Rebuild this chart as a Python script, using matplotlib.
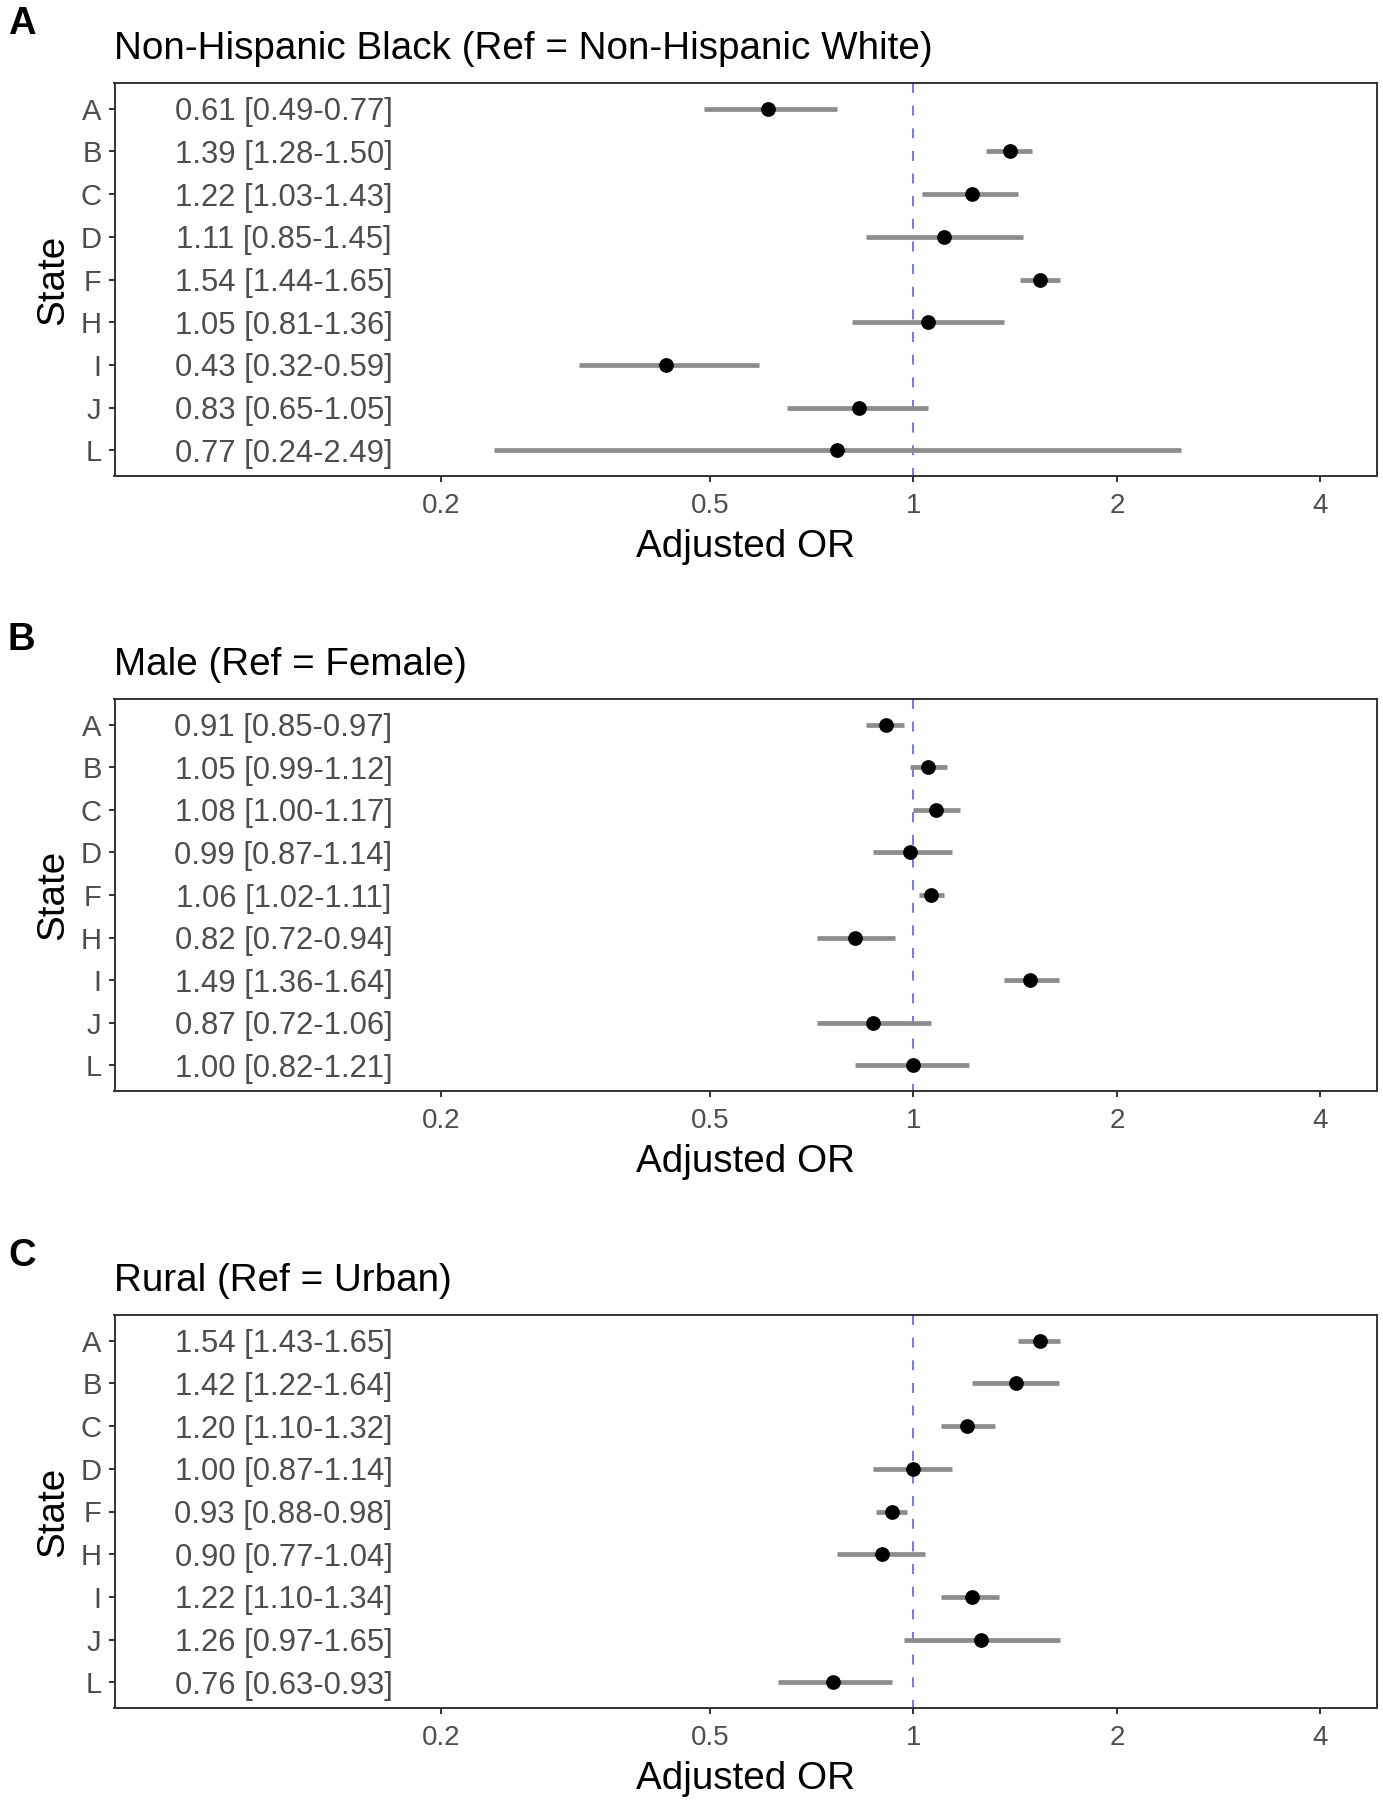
import matplotlib
matplotlib.use("Agg")
import matplotlib.pyplot as plt
import matplotlib.transforms as mtransforms

plt.rcParams['font.family'] = ['Liberation Sans', 'DejaVu Sans']
plt.rcParams['lines.scale_dashes'] = False

# data
states = ['A', 'B', 'C', 'D', 'F', 'H', 'I', 'J', 'L']

race_or = [0.61, 1.39, 1.22, 1.11, 1.54, 1.05, 0.43, 0.83, 0.77]
race_lo = [0.49, 1.28, 1.03, 0.85, 1.44, 0.81, 0.32, 0.65, 0.24]
race_hi = [0.77, 1.50, 1.43, 1.45, 1.65, 1.36, 0.59, 1.05, 2.49]

sex_or = [0.91, 1.05, 1.08, 0.99, 1.06, 0.82, 1.49, 0.87, 1.00]
sex_lo = [0.85, 0.99, 1.00, 0.87, 1.02, 0.72, 1.36, 0.72, 0.82]
sex_hi = [0.97, 1.12, 1.17, 1.14, 1.11, 0.94, 1.64, 1.06, 1.21]

rural_or = [1.54, 1.42, 1.20, 1.00, 0.93, 0.90, 1.22, 1.26, 0.76]
rural_lo = [1.43, 1.22, 1.10, 0.87, 0.88, 0.77, 1.10, 0.97, 0.63]
rural_hi = [1.65, 1.64, 1.32, 1.14, 0.98, 1.04, 1.34, 1.65, 0.93]

panels = [
    ('A', 'Non-Hispanic Black (Ref = Non-Hispanic White)', race_or, race_lo, race_hi),
    ('B', 'Male (Ref = Female)', sex_or, sex_lo, sex_hi),
    ('C', 'Rural (Ref = Urban)', rural_or, rural_lo, rural_hi),
]

xticks = [0.2, 0.5, 1, 2, 4]
xticklabels = ['0.2', '0.5', '1', '2', '4']
label_x = 0.117          # where the OR [CI] column sits
x_limits = (0.0658, 4.85)

W, H = 1383, 1800
fig = plt.figure(figsize=(W / 100, H / 100), dpi=100)

# axes boxes in pixels: (top, bottom)
boxes = [(83, 476), (699, 1091), (1315, 1708)]
left_px, right_px = 114.5, 1377

TXT = '#4D4D4D'
DARK = '#333333'

for (letter, title, ors, los, his), (top, bot) in zip(panels, boxes):
    ax = fig.add_axes([left_px / W, 1 - bot / H,
                       (right_px - left_px) / W, (bot - top) / H])
    y = list(range(len(states)))

    ax.hlines(y, los, his, color='#8c8c8c', lw=3.4, zorder=2)
    ax.plot(ors, y, 'o', color='black', ms=9.6, zorder=3)

    for yi, o, lo, hi in zip(y, ors, los, his):
        ax.text(label_x, yi, '%.2f [%.2f-%.2f]' % (o, lo, hi),
                ha='center', va='center_baseline', fontsize=22.3, color=TXT)

    # reference line at OR = 1, drawn from the top down
    trans = mtransforms.blended_transform_factory(ax.transData, ax.transAxes)
    ax.plot([1, 1], [1, 0], transform=trans, color='#7878ff', lw=1.44,
            linestyle=(0, (7.2, 9.1)), zorder=1)

    ax.set_xscale('log')
    ax.set_xlim(*x_limits)
    ax.set_xticks(xticks)
    ax.set_xticklabels(xticklabels)
    ax.minorticks_off()
    ax.set_ylim(len(states) - 0.4, -0.6)
    ax.set_yticks(y)
    ax.set_yticklabels(states)

    ax.tick_params(axis='x', labelsize=20, labelcolor=TXT, color=DARK,
                   length=4.3, width=1.4, pad=8)
    ax.tick_params(axis='y', labelsize=21, labelcolor=TXT, color=DARK,
                   length=4.3, width=1.4, pad=5)
    for sp in ax.spines.values():
        sp.set_color(DARK)
        sp.set_linewidth(1.4)

    ax.set_xlabel('Adjusted OR', fontsize=27.8, labelpad=7)
    ax.set_ylabel('State', fontsize=27.8, labelpad=7)
    ax.set_title(title, loc='left', fontsize=27.8, pad=17.3)

    fig.text(8 / W, 1 - (top - 49) / H, letter, fontsize=27.5,
             fontweight='bold', va='baseline', ha='left')

fig.savefig('out.png', dpi=100)
